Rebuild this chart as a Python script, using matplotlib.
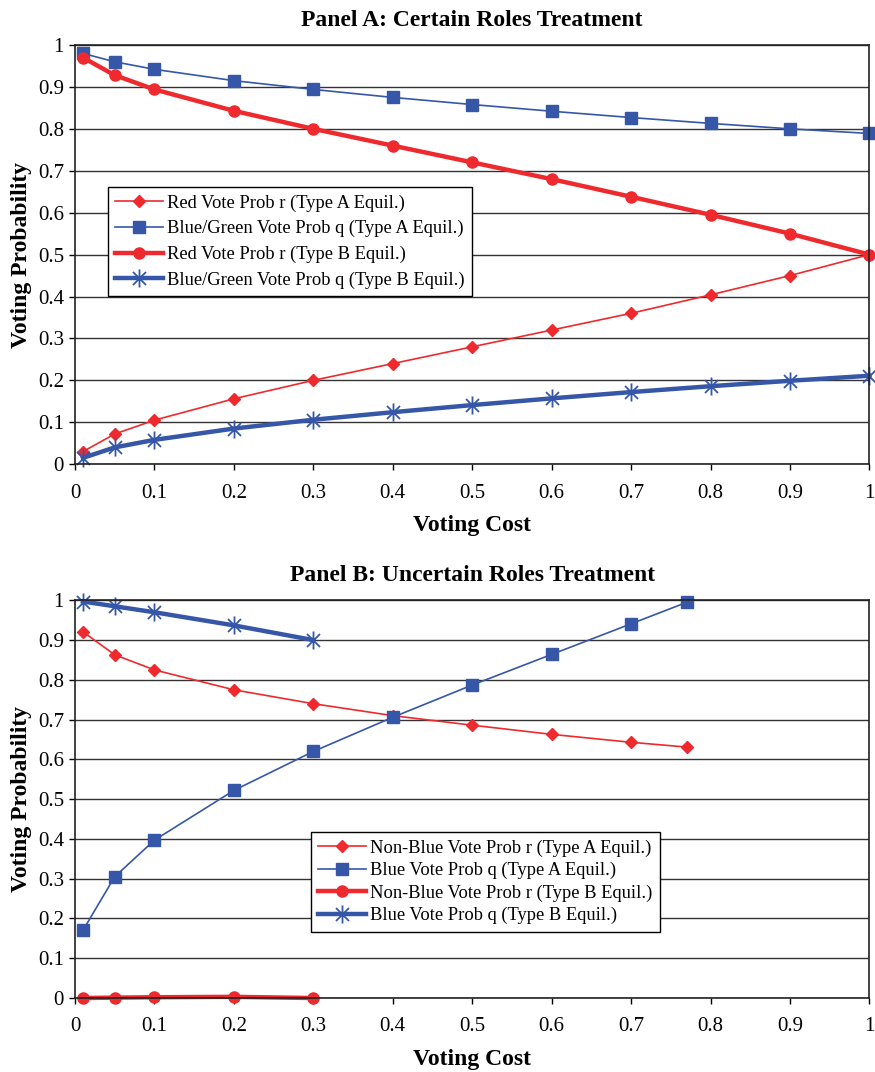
import matplotlib.pyplot as plt
from matplotlib.path import Path

plt.rcParams['font.family'] = ['Liberation Serif', 'DejaVu Serif']

RED = '#ee2a2e'
BLUE = '#3656a8'

# Panel A: Certain Roles Treatment
cost_a = [0.01, 0.05, 0.1, 0.2, 0.3, 0.4, 0.5, 0.6, 0.7, 0.8, 0.9, 1.0]
red_a_typeA = [0.03, 0.072, 0.105, 0.156, 0.20, 0.24, 0.28, 0.32, 0.36, 0.404, 0.45, 0.50]
blue_a_typeA = [0.98, 0.96, 0.942, 0.915, 0.894, 0.875, 0.858, 0.842, 0.827, 0.813, 0.80, 0.789]
red_a_typeB = [0.97, 0.928, 0.894, 0.843, 0.80, 0.76, 0.72, 0.68, 0.638, 0.595, 0.55, 0.50]
blue_a_typeB = [0.015, 0.04, 0.058, 0.085, 0.106, 0.124, 0.141, 0.157, 0.172, 0.186, 0.199, 0.211]

# Panel B: Uncertain Roles Treatment
cost_b_A = [0.01, 0.05, 0.1, 0.2, 0.3, 0.4, 0.5, 0.6, 0.7, 0.77]
nonblue_b_typeA = [0.921, 0.863, 0.825, 0.775, 0.74, 0.71, 0.686, 0.663, 0.643, 0.631]
blue_b_typeA = [0.17, 0.305, 0.397, 0.522, 0.62, 0.706, 0.787, 0.864, 0.941, 0.995]
cost_b_B = [0.01, 0.05, 0.1, 0.2, 0.3]
nonblue_b_typeB = [0.0, 0.001, 0.002, 0.003, 0.0]
blue_b_typeB = [0.997, 0.985, 0.97, 0.937, 0.90]

labels_a = ['Red Vote Prob r (Type A Equil.)',
            'Blue/Green Vote Prob q (Type A Equil.)',
            'Red Vote Prob r (Type B Equil.)',
            'Blue/Green Vote Prob q (Type B Equil.)']
labels_b = ['Non-Blue Vote Prob r (Type A Equil.)',
            'Blue Vote Prob q (Type A Equil.)',
            'Non-Blue Vote Prob r (Type B Equil.)',
            'Blue Vote Prob q (Type B Equil.)']

ticks = [0, 0.1, 0.2, 0.3, 0.4, 0.5, 0.6, 0.7, 0.8, 0.9, 1]
tick_labels = ['0', '0.1', '0.2', '0.3', '0.4', '0.5', '0.6', '0.7', '0.8', '0.9', '1']

# excel-like asterisk: vertical bar plus an X
asterisk = Path([(0, -1), (0, 1), (-0.72, -0.72), (0.72, 0.72), (-0.72, 0.72), (0.72, -0.72)],
                [Path.MOVETO, Path.LINETO] * 3)

fig = plt.figure(figsize=(8.75, 10.72), dpi=100)
ax1 = fig.add_axes([0.0857, 0.567, 0.908, 0.391])
ax2 = fig.add_axes([0.0857, 0.069, 0.908, 0.371])


def style(ax, title):
    ax.set_xlim(0, 1)
    ax.set_ylim(0, 1)
    ax.set_xticks(ticks)
    ax.set_xticklabels(tick_labels)
    ax.set_yticks(ticks)
    ax.set_yticklabels(tick_labels)
    ax.tick_params(labelsize=15, direction='out', length=4, width=1, color='black')
    ax.tick_params(axis='x', pad=10)
    ax.tick_params(axis='y', pad=4)
    ax.yaxis.grid(True, color='#333333', linewidth=1)
    ax.set_axisbelow(True)
    for s in ax.spines.values():
        s.set_linewidth(1.2)
        s.set_color('#222222')
    ax.set_title(title, fontsize=17, fontweight='bold', pad=14)
    ax.set_xlabel('Voting Cost', fontsize=17, fontweight='bold', labelpad=9)
    ax.set_ylabel('Voting Probability', fontsize=17, fontweight='bold', labelpad=4)


style(ax1, 'Panel A: Certain Roles Treatment')
ax1.plot(cost_a, red_a_typeA, color=RED, lw=1.2, marker='D', ms=6, label=labels_a[0], clip_on=False)
ax1.plot(cost_a, blue_a_typeA, color=BLUE, lw=1.2, marker='s', ms=8, label=labels_a[1], clip_on=False)
ax1.plot(cost_a, red_a_typeB, color=RED, lw=3.2, marker='o', ms=8, label=labels_a[2], clip_on=False)
ax1.plot(cost_a, blue_a_typeB, color=BLUE, lw=3.2, marker=asterisk, ms=13, mew=1.3,
         label=labels_a[3], clip_on=False)
leg1 = ax1.legend(loc='upper left', bbox_to_anchor=(0.03, 0.683), fontsize=13.3,
                  frameon=True, fancybox=False, edgecolor='black', framealpha=1,
                  borderpad=0.4, labelspacing=0.45, handlelength=2.6, handletextpad=0.2)
leg1.get_frame().set_linewidth(1)

style(ax2, 'Panel B: Uncertain Roles Treatment')
ax2.plot(cost_b_A, nonblue_b_typeA, color=RED, lw=1.2, marker='D', ms=6, label=labels_b[0], clip_on=False)
ax2.plot(cost_b_A, blue_b_typeA, color=BLUE, lw=1.2, marker='s', ms=8, label=labels_b[1], clip_on=False)
ax2.plot(cost_b_B, nonblue_b_typeB, color=RED, lw=3.2, marker='o', ms=8, label=labels_b[2], clip_on=False)
ax2.plot(cost_b_B, blue_b_typeB, color=BLUE, lw=3.2, marker=asterisk, ms=13, mew=1.3,
         label=labels_b[3], clip_on=False)
leg2 = ax2.legend(loc='upper left', bbox_to_anchor=(0.285, 0.44), fontsize=13.3,
                  frameon=True, fancybox=False, edgecolor='black', framealpha=1,
                  borderpad=0.4, labelspacing=0.28, handlelength=2.6, handletextpad=0.2)
leg2.get_frame().set_linewidth(1)

fig.savefig('out.png', dpi=100)
